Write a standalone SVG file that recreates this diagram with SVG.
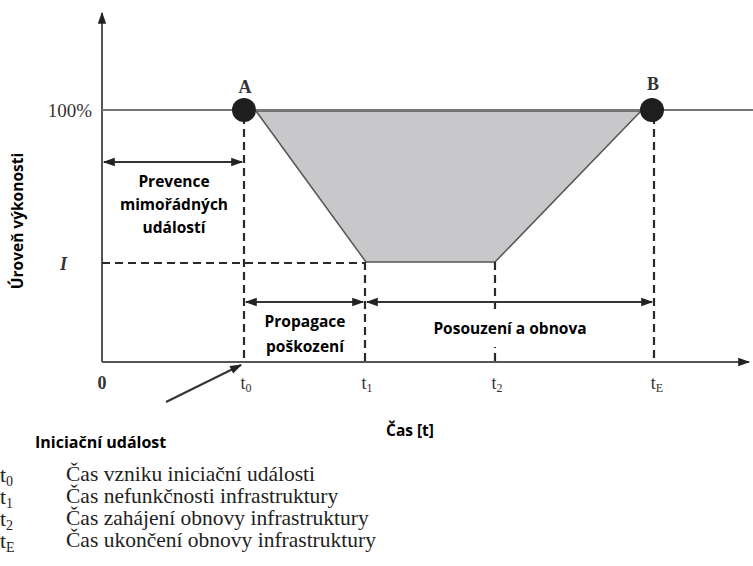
<svg xmlns="http://www.w3.org/2000/svg" width="753" height="566" viewBox="0 0 753 566">
<defs>
<style>
.ax{stroke:#555;stroke-width:2;fill:none}
.lvl{stroke:#777;stroke-width:2;fill:none}
.dash{stroke:#2a2a2a;stroke-width:2.2;stroke-dasharray:8 5;fill:none}
.arr{stroke:#333;stroke-width:2;fill:none}
.lbl{font-family:"Open Sans","Liberation Sans",sans-serif;font-weight:bold;font-size:15.5px;fill:#000;text-anchor:middle}
.lbs{font-family:"Open Sans","Liberation Sans",sans-serif;font-weight:bold;font-size:16px;fill:#000;text-anchor:start}
.ser{font-family:"Liberation Serif","Times New Roman",serif;fill:#333}
.leg{font-family:"Liberation Serif","Times New Roman",serif;font-size:21.5px;fill:#222}
</style>
<marker id="ahb" viewBox="0 0 10 10" refX="9" refY="5" markerWidth="14" markerHeight="12" orient="auto-start-reverse" markerUnits="userSpaceOnUse">
<path d="M0,1.5 L10,5 L0,8.5 z" fill="#222"/>
</marker>
</defs>
<rect width="753" height="566" fill="#fff"/>

<g id="area">
<polygon points="256,111 366,262 495,262 641,111" fill="#c8c8ca" stroke="#555" stroke-width="1.5"/>
</g>

<g id="axes">
<line class="ax" x1="102" y1="362" x2="102" y2="13" marker-end="url(#ahb)"/>
<line class="ax" x1="102" y1="362" x2="749" y2="362" marker-end="url(#ahb)"/>
<line class="lvl" x1="102" y1="110" x2="753" y2="110"/>
</g>

<g id="connectors">
<line class="dash" x1="244" y1="116" x2="244" y2="362"/>
<line class="dash" x1="365" y1="262" x2="365" y2="362"/>
<line class="dash" x1="495" y1="262" x2="495" y2="362"/>
<line class="dash" x1="654" y1="116" x2="654" y2="362"/>
<line class="dash" x1="102" y1="263" x2="365" y2="263"/>
<line class="arr" x1="104" y1="162" x2="242" y2="162" marker-start="url(#ahb)" marker-end="url(#ahb)"/>
<line class="arr" x1="246" y1="302" x2="363" y2="302" marker-start="url(#ahb)" marker-end="url(#ahb)"/>
<line class="arr" x1="367" y1="302" x2="652" y2="302" marker-start="url(#ahb)" marker-end="url(#ahb)"/>
<line class="arr" x1="166" y1="402" x2="241" y2="365" marker-end="url(#ahb)"/>
</g>

<g id="masks">
<rect x="250" y="308" width="110" height="50" fill="#fff"/>
<rect x="428" y="311" width="164" height="36" fill="#fff"/>
</g>

<g id="pointA">
<circle cx="244" cy="110" r="12" fill="#1e1e1e"/>
<text class="ser" x="245" y="93" font-size="18" font-weight="bold" text-anchor="middle">A</text>
</g>
<g id="pointB">
<circle cx="652" cy="110" r="12" fill="#1e1e1e"/>
<text class="ser" x="653" y="90" font-size="18" font-weight="bold" text-anchor="middle">B</text>
</g>

<g id="axis-labels">
<text class="ser" x="92" y="117" font-size="19" text-anchor="end">100%</text>
<text class="ser" x="60" y="270" font-size="18" font-style="italic" font-weight="bold">I</text>
<text class="ser" x="102" y="389" font-size="18" font-weight="bold" text-anchor="middle">0</text>
<text class="ser" x="246" y="389" font-size="18" text-anchor="middle">t<tspan font-size="12" dy="3">0</tspan></text>
<text class="ser" x="367" y="389" font-size="18" text-anchor="middle">t<tspan font-size="12" dy="3">1</tspan></text>
<text class="ser" x="497" y="389" font-size="18" text-anchor="middle">t<tspan font-size="12" dy="3">2</tspan></text>
<text class="ser" x="657" y="389" font-size="18" text-anchor="middle">t<tspan font-size="12" dy="3">E</tspan></text>
</g>

<g id="prevence">
<text class="lbl" x="174" y="187">Prevence</text>
<text class="lbl" x="174" y="210">mimořádných</text>
<text class="lbl" x="174" y="233">událostí</text>
</g>
<g id="propagace">
<text class="lbl" x="305" y="327">Propagace</text>
<text class="lbl" x="305" y="352">poškození</text>
</g>
<g id="posouzeni">
<text class="lbl" x="510" y="334">Posouzení a obnova</text>
</g>

<g id="titles">
<text class="lbl" transform="translate(23,221) rotate(-90)" font-size="15">Úroveň výkonosti</text>
<text class="lbl" x="410" y="436">Čas [t]</text>
<text class="lbs" x="35" y="448">Iniciační událost</text>
</g>

<g id="legend">
<text class="leg" x="0" y="482">t<tspan font-size="14" dy="4">0</tspan></text>
<text class="leg" x="0" y="504">t<tspan font-size="14" dy="4">1</tspan></text>
<text class="leg" x="0" y="526">t<tspan font-size="14" dy="4">2</tspan></text>
<text class="leg" x="0" y="548">t<tspan font-size="14" dy="4">E</tspan></text>
<text class="leg" x="66" y="481">Čas vzniku iniciační události</text>
<text class="leg" x="66" y="503">Čas nefunkčnosti infrastruktury</text>
<text class="leg" x="66" y="525">Čas zahájení obnovy infrastruktury</text>
<text class="leg" x="66" y="547">Čas ukončení obnovy infrastruktury</text>
</g>
</svg>
